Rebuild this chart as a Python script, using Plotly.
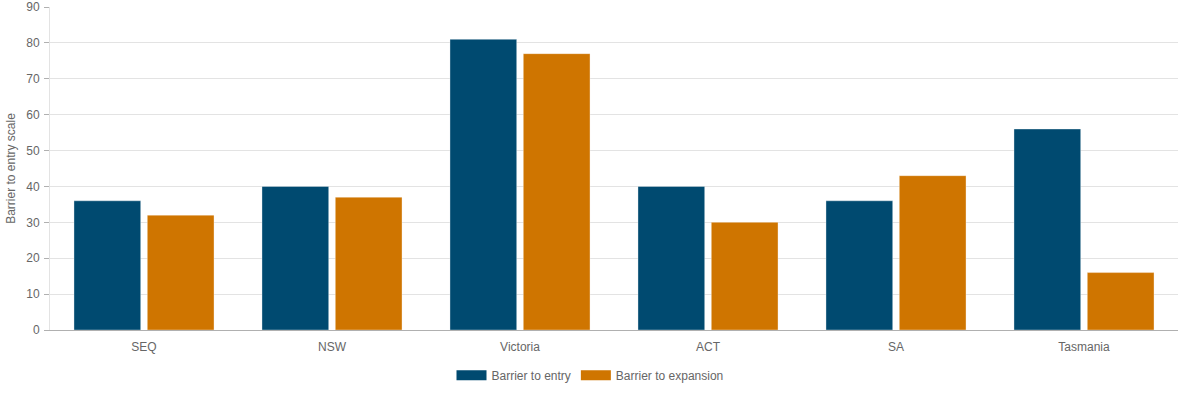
import plotly.graph_objects as go

categories = ["SEQ", "NSW", "Victoria", "ACT", "SA", "Tasmania"]
barrier_entry = [36, 40, 81, 40, 36, 56]
barrier_expansion = [32, 37, 77, 30, 43, 16]
y_ticks = [0, 10, 20, 30, 40, 50, 60, 70, 80, 90]

series = [
    ("Barrier to entry", barrier_entry, "#004a70"),
    ("Barrier to expansion", barrier_expansion, "#cf7500"),
]

fig = go.Figure()
for name, vals, color in series:
    fig.add_trace(go.Bar(
        x=categories, y=vals, name=name, showlegend=False, legendgroup=name,
        marker=dict(color=color, line=dict(color="rgba(255,255,255,0.35)", width=1)),
    ))
# legend entries drawn as wide swatches
for name, vals, color in series:
    fig.add_trace(go.Scatter(
        x=[None], y=[None], mode="lines", name=name, legendgroup=name,
        line=dict(color=color, width=12), hoverinfo="skip",
    ))

W, H = 1180, 393
ML, MR, MT, MB = 50, 2, 7, 63
font_family = "Liberation Sans, Arial, Helvetica, sans-serif"
fig.update_layout(
    width=W, height=H,
    margin=dict(l=ML, r=MR, t=MT, b=MB),
    paper_bgcolor="white", plot_bgcolor="white",
    barmode="group", bargap=0.22, bargroupgap=0.09,
    font=dict(family=font_family, size=12, color="#666666"),
    showlegend=True,
    legend=dict(orientation="h", x=(W / 2 - ML) / (W - ML - MR), xanchor="center",
                y=-0.095, yanchor="top", itemwidth=30,
                font=dict(size=12, color="#666666")),
    xaxis=dict(showgrid=False, showline=True, linecolor="#b0b0b0", linewidth=1,
               ticks="", automargin=False, ticklabelstandoff=6,
               tickfont=dict(size=12, color="#666666")),
    yaxis=dict(range=[0, 90], tickvals=y_ticks, showgrid=True, gridcolor="#e3e3e3",
               gridwidth=1, zeroline=False, showline=True, linecolor="#e3e3e3",
               ticks="outside", ticklen=5, tickcolor="#b0b0b0", automargin=False,
               ticklabelstandoff=2,
               tickfont=dict(size=12, color="#666666"),
               title=dict(text="Barrier to entry scale", font=dict(size=12, color="#666666"),
                          standoff=8)),
)

fig.write_html("out.html", config={"displayModeBar": False},
               post_script="document.body.style.margin='0px';")
